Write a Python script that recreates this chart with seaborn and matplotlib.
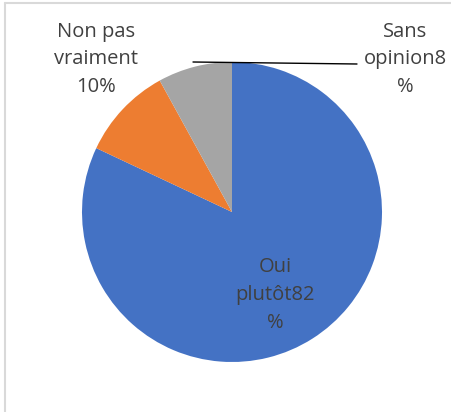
import matplotlib.pyplot as plt
import seaborn as sns

labels = ["Oui plutôt", "Non pas vraiment", "Sans opinion"]
values = [82, 10, 8]
label_text = ["Oui\nplutôt82\n%", "Non pas\nvraiment\n10%", "Sans\nopinion8\n%"]
colors = ["#4472C4", "#ED7D31", "#A5A5A5"]

sns.set_theme(style="white")
plt.rcParams['font.family'] = ['Open Sans', 'DejaVu Sans']

W, H = 452, 412
fig = plt.figure(figsize=(W / 100, H / 100), dpi=100)
ax = fig.add_axes([0, 0, 1, 1])

ax.pie(values, colors=colors, startangle=90, counterclock=False,
       center=(232, H - 212), radius=150, frame=True,
       wedgeprops=dict(linewidth=0))
ax.set_xlim(0, W)
ax.set_ylim(0, H)
ax.set_aspect("auto")
ax.axis("off")

# label positions in pixel coords (from top)
pos = [(275, 295), (96, 59), (405, 59)]
for t, (x, y) in zip(label_text, pos):
    ax.text(x, H - y, t, ha="center", va="center", fontsize=14.5,
            color="#404040", linespacing=1.5)

# leader line for "Sans opinion"
ax.plot([193, 357], [H - 62, H - 64], color="black", lw=1)

# chart frame (top and left borders)
ax.plot([5, W], [H - 3, H - 3], color="#d9d9d9", lw=1.5, clip_on=False)
ax.plot([5, 5], [H - 3, 0], color="#d9d9d9", lw=1.5, clip_on=False)

fig.savefig("out.png", dpi=100)
